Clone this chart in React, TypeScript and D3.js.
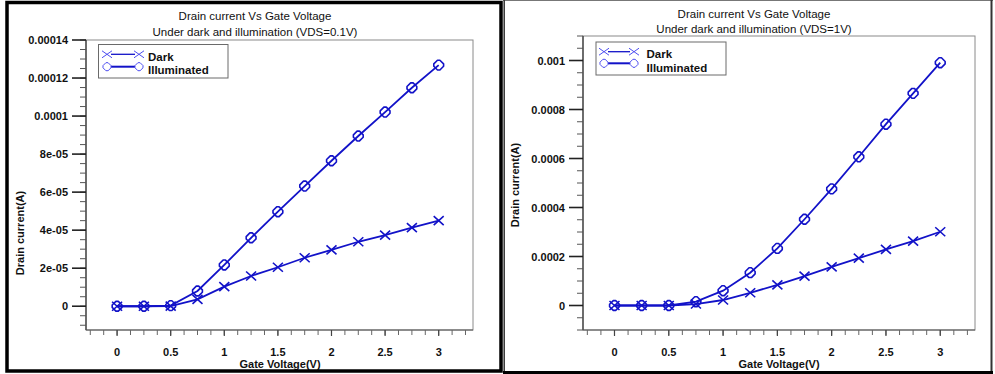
import React from "react";
import * as d3 from "d3";

// ---------- data ----------
const VG = [0, 0.25, 0.5, 0.75, 1, 1.25, 1.5, 1.75, 2, 2.25, 2.5, 2.75, 3];

// VDS = 0.1 V
const DARK_01 = [0, 0, 0.1e-6, 3.6e-6, 1.03e-5, 1.59e-5, 2.05e-5, 2.55e-5, 2.96e-5, 3.39e-5, 3.74e-5, 4.13e-5, 4.5e-5];
const ILLUM_01 = [0, 0, 0.3e-6, 8.0e-6, 2.17e-5, 3.6e-5, 4.97e-5, 6.32e-5, 7.65e-5, 8.95e-5, 1.021e-4, 1.149e-4, 1.268e-4];

// VDS = 1 V
const DARK_1 = [0, 0, 0, 6e-6, 2.24e-5, 5.2e-5, 8.4e-5, 1.2e-4, 1.58e-4, 1.93e-4, 2.29e-4, 2.63e-4, 3.01e-4];
const ILLUM_1 = [0, 0, 0, 1.55e-5, 6.04e-5, 1.34e-4, 2.33e-4, 3.52e-4, 4.76e-4, 6.07e-4, 7.4e-4, 8.66e-4, 9.91e-4];

const X_TICKS = [0, 0.5, 1, 1.5, 2, 2.5, 3];
const X_TICK_LABELS = ["0", "0.5", "1", "1.5", "2", "2.5", "3"];

const Y_TICKS_01 = [0, 2e-5, 4e-5, 6e-5, 8e-5, 1e-4, 1.2e-4, 1.4e-4];
const Y_TICK_LABELS_01 = ["0", "2e-05", "4e-05", "6e-05", "8e-05", "0.0001", "0.00012", "0.00014"];

const Y_TICKS_1 = [0, 2e-4, 4e-4, 6e-4, 8e-4, 1e-3];
const Y_TICK_LABELS_1 = ["0", "0.0002", "0.0004", "0.0006", "0.0008", "0.001"];

const TITLE_1 = "Drain current Vs Gate Voltage";
const SUBTITLE_01 = "Under dark and illumination (VDS=0.1V)";
const SUBTITLE_1 = "Under dark and illumination (VDS=1V)";
const SERIES_NAMES = ["Dark", "Illuminated"];
const X_LABEL = "Gate Voltage(V)";
const Y_LABEL = "Drain current(A)";

// ---------- styles ----------
const BLUE = "#1212c8";
const LIGHT_BLUE = "#4d4df0";
const FONT = "Arial, 'Liberation Sans', sans-serif";

function octagon(a: number, c: number) {
  return `M${-c},${-a}L${c},${-a}L${a},${-c}L${a},${c}L${c},${a}L${-c},${a}L${-a},${c}L${-a},${-c}Z`;
}

function XMark({ x, y, w = 5, h = 4.5, color = BLUE, sw = 1.6 }: any) {
  return (
    <path
      d={`M${x - w},${y - h}L${x + w},${y + h}M${x - w},${y + h}L${x + w},${y - h}`}
      stroke={color}
      strokeWidth={sw}
      fill="none"
    />
  );
}

function OMark({ x, y, color = BLUE, sw = 1.6, a = 4.9, c = 1.2 }: any) {
  return (
    <path
      d={octagon(a, c)}
      transform={`translate(${x},${y})`}
      stroke={color}
      strokeWidth={sw}
      strokeLinejoin="round"
      fill="none"
    />
  );
}

interface PanelProps {
  frame: { x0: number; x1: number; y0: number; y1: number };
  yDomain: [number, number];
  yMinorStep: number;
  yTicks: number[];
  yTickLabels: string[];
  dark: number[];
  illum: number[];
  titleX: number;
  titleY: [number, number];
  subtitle: string;
  legend: { x: number; y: number; w: number; h: number; rowY: [number, number]; textY: [number, number]; sx0: number; sx1: number; tx: number };
  yLabelPos: [number, number];
  xLabelX: number;
}

function Panel(p: PanelProps) {
  const { frame } = p;
  const x = d3.scaleLinear().domain([-0.29, 3.32]).range([frame.x0, frame.x1]);
  const y = d3.scaleLinear().domain(p.yDomain).range([frame.y1, frame.y0]);

  const xMinor = d3.range(-0.25, 3.3, 0.125);
  const nMinor = Math.round((p.yDomain[1] - p.yDomain[0]) / p.yMinorStep);
  const yMinor: number[] = [];
  for (let i = 0; i <= nMinor + 1; i++) {
    const v = Math.ceil(p.yDomain[0] / p.yMinorStep) * p.yMinorStep + i * p.yMinorStep;
    if (v <= p.yDomain[1] + 1e-12) yMinor.push(v);
  }

  const line = d3
    .line<number>()
    .x((_, i) => x(VG[i]))
    .y((d) => y(d));

  const L = p.legend;

  return (
    <g fontFamily={FONT}>
      {/* titles */}
      <text x={p.titleX} y={p.titleY[0]} textAnchor="middle" fontSize={11.5} fill="#111">
        {TITLE_1}
      </text>
      <text x={p.titleX} y={p.titleY[1]} textAnchor="middle" fontSize={11.5} fill="#111">
        {p.subtitle}
      </text>

      {/* plot frame */}
      <rect
        x={frame.x0}
        y={frame.y0}
        width={frame.x1 - frame.x0}
        height={frame.y1 - frame.y0}
        fill="none"
        stroke="#8a8a8a"
        strokeWidth={1}
      />

      {/* y axis */}
      <line x1={frame.x0} x2={frame.x0} y1={frame.y0} y2={frame.y1} stroke="#333" strokeWidth={1.2} />
      {yMinor.map((v, i) => (
        <line key={"ym" + i} x1={frame.x0 - 6} x2={frame.x0} y1={y(v)} y2={y(v)} stroke="#555" strokeWidth={1} />
      ))}
      {p.yTicks.map((v, i) => (
        <g key={"yt" + i}>
          <line x1={frame.x0 - 14} x2={frame.x0} y1={y(v)} y2={y(v)} stroke="#222" strokeWidth={1.6} />
          <text
            x={frame.x0 - 18}
            y={y(v) + 4}
            textAnchor="end"
            fontSize={11}
            fontWeight="bold"
            fill="#111"
          >
            {p.yTickLabels[i]}
          </text>
        </g>
      ))}
      <text
        transform={`translate(${p.yLabelPos[0]},${p.yLabelPos[1]}) rotate(-90)`}
        textAnchor="middle"
        fontSize={11}
        fontWeight="bold"
        fill="#111"
        dy={4}
      >
        {Y_LABEL}
      </text>

      {/* x axis */}
      <line x1={frame.x0} x2={frame.x1} y1={frame.y1} y2={frame.y1} stroke="#555" strokeWidth={1.2} />
      {xMinor.map((v, i) => (
        <line key={"xm" + i} x1={x(v)} x2={x(v)} y1={frame.y1} y2={frame.y1 + 5} stroke="#666" strokeWidth={1} />
      ))}
      {X_TICKS.map((v, i) => (
        <g key={"xt" + i}>
          <line x1={x(v)} x2={x(v)} y1={frame.y1} y2={frame.y1 + 6} stroke="#444" strokeWidth={1.2} />
          <text x={x(v)} y={frame.y1 + 25.5} textAnchor="middle" fontSize={11} fontWeight="bold" fill="#111">
            {X_TICK_LABELS[i]}
          </text>
        </g>
      ))}
      <text x={p.xLabelX} y={frame.y1 + 38} textAnchor="middle" fontSize={11} fontWeight="bold" fill="#111">
        {X_LABEL}
      </text>

      {/* series */}
      <path d={line(p.dark) || ""} stroke={BLUE} strokeWidth={1.8} fill="none" />
      <path d={line(p.illum) || ""} stroke={BLUE} strokeWidth={1.8} fill="none" />
      {p.dark.map((v, i) => (
        <XMark key={"dm" + i} x={x(VG[i])} y={y(v)} />
      ))}
      {p.illum.map((v, i) => (
        <OMark key={"om" + i} x={x(VG[i])} y={y(v)} />
      ))}

      {/* legend */}
      <rect x={L.x} y={L.y} width={L.w} height={L.h} fill="#fff" stroke="#6a6a6a" strokeWidth={1} />
      <line x1={L.sx0 + 4} x2={L.sx1 - 4} y1={L.rowY[0]} y2={L.rowY[0]} stroke={BLUE} strokeWidth={1.3} />
      <XMark x={L.sx0} y={L.rowY[0]} w={5} h={3.5} color={LIGHT_BLUE} sw={1} />
      <XMark x={L.sx1} y={L.rowY[0]} w={5} h={3.5} color={LIGHT_BLUE} sw={1} />
      <line x1={L.sx0 + 4} x2={L.sx1 - 4} y1={L.rowY[1]} y2={L.rowY[1]} stroke={BLUE} strokeWidth={2} />
      <OMark x={L.sx0} y={L.rowY[1]} color={LIGHT_BLUE} sw={1} a={4} c={1.1} />
      <OMark x={L.sx1} y={L.rowY[1]} color={LIGHT_BLUE} sw={1} a={4} c={1.1} />
      <text x={L.tx} y={L.textY[0]} fontSize={11.5} fontWeight="bold" fill="#111">
        {SERIES_NAMES[0]}
      </text>
      <text x={L.tx} y={L.textY[1]} fontSize={11.5} fontWeight="bold" fill="#111">
        {SERIES_NAMES[1]}
      </text>
    </g>
  );
}

export default function App() {
  return (
    <svg
      width={995}
      height={374}
      style={{ position: "fixed", left: 0, top: 0, display: "block", background: "#fff" }}
    >
      <rect x={0} y={0} width={995} height={374} fill="#fff" />

      <Panel
        frame={{ x0: 86, x1: 473, y0: 40, y1: 330 }}
        yDomain={[-1.25e-5, 1.4e-4]}
        yMinorStep={5e-6}
        yTicks={Y_TICKS_01}
        yTickLabels={Y_TICK_LABELS_01}
        dark={DARK_01}
        illum={ILLUM_01}
        titleX={255}
        titleY={[20, 35.7]}
        subtitle={SUBTITLE_01}
        legend={{ x: 98.5, y: 44.5, w: 129.5, h: 33.5, rowY: [54.3, 66.7], textY: [60.8, 74], sx0: 107, sx1: 139, tx: 148 }}
        yLabelPos={[20, 233]}
        xLabelX={280}
      />

      <Panel
        frame={{ x0: 583, x1: 975, y0: 36, y1: 330 }}
        yDomain={[-1e-4, 1.1e-3]}
        yMinorStep={5e-5}
        yTicks={Y_TICKS_1}
        yTickLabels={Y_TICK_LABELS_1}
        dark={DARK_1}
        illum={ILLUM_1}
        titleX={754}
        titleY={[18, 32.5]}
        subtitle={SUBTITLE_1}
        legend={{ x: 596, y: 42, w: 130, h: 33, rowY: [51.7, 63.3], textY: [58.3, 71.5], sx0: 604, sx1: 634, tx: 646.5 }}
        yLabelPos={[515, 185]}
        xLabelX={779}
      />

      {/* panel borders */}
      <rect x={7} y={2.5} width={494} height={368.5} fill="none" stroke="#000" strokeWidth={3.5} />
      <line x1={503} x2={993} y1={0.5} y2={0.5} stroke="#777" strokeWidth={1} />
      <line x1={504.2} x2={504.2} y1={0} y2={373} stroke="#333" strokeWidth={1.5} />
      <line x1={991.5} x2={991.5} y1={0} y2={373} stroke="#333" strokeWidth={2} />
      <line x1={503} x2={993} y1={372.5} y2={372.5} stroke="#000" strokeWidth={3} />
    </svg>
  );
}
